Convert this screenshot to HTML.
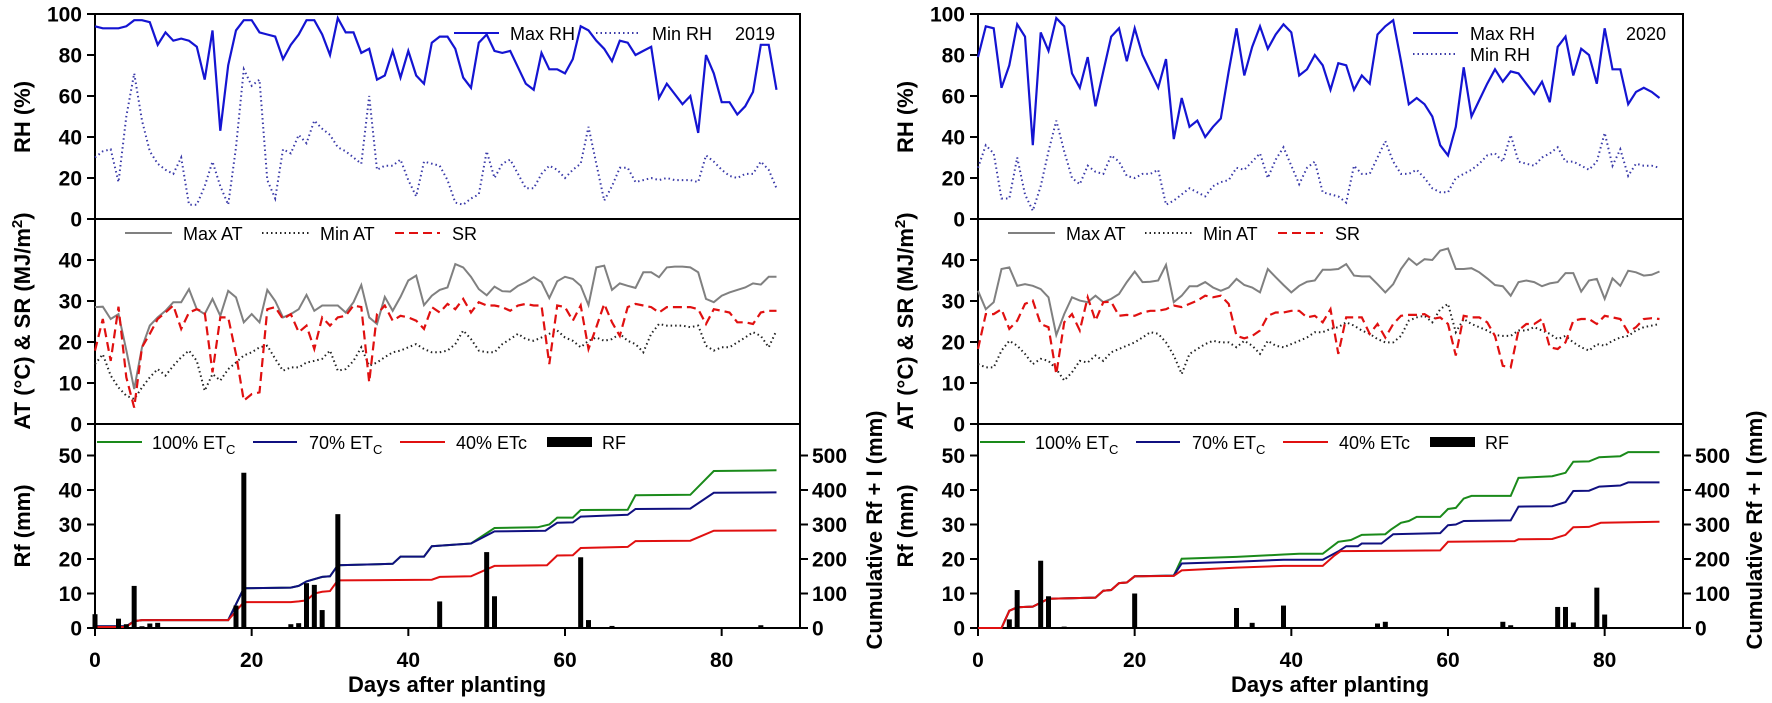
<!DOCTYPE html>
<html><head><meta charset="utf-8"><style>
html,body{margin:0;padding:0;background:#fff;}
svg{display:block;font-family:"Liberation Sans",Arial,sans-serif;}
.tk{font-weight:bold;font-size:21px;fill:#000;}
.tt{font-weight:bold;font-size:22px;fill:#000;}
.lg{font-size:18px;fill:#000;}
</style></head><body>
<svg id="chart" width="1772" height="703" viewBox="0 0 1772 703" xmlns="http://www.w3.org/2000/svg">
<rect x="0" y="0" width="1772" height="703" fill="#fff"/>
<g id="gL"></g>
<g id="gR"></g>
<!-- static titles left -->
<text class="tt" transform="translate(30,117) rotate(-90)" text-anchor="middle">RH (%)</text>
<text class="tt" transform="translate(30,321) rotate(-90)" text-anchor="middle">AT (°C) &amp; SR (MJ/m<tspan dy="-8" font-size="15">2</tspan><tspan dy="8">)</tspan></text>
<text class="tt" transform="translate(30,526) rotate(-90)" text-anchor="middle">Rf (mm)</text>
<text class="tt" transform="translate(882,530) rotate(-90)" text-anchor="middle">Cumulative Rf + I (mm)</text>
<text class="tt" x="447" y="692" text-anchor="middle">Days after planting</text>
<!-- static titles right -->
<text class="tt" transform="translate(913,117) rotate(-90)" text-anchor="middle">RH (%)</text>
<text class="tt" transform="translate(913,321) rotate(-90)" text-anchor="middle">AT (°C) &amp; SR (MJ/m<tspan dy="-8" font-size="15">2</tspan><tspan dy="8">)</tspan></text>
<text class="tt" transform="translate(913,526) rotate(-90)" text-anchor="middle">Rf (mm)</text>
<text class="tt" transform="translate(1762,530) rotate(-90)" text-anchor="middle">Cumulative Rf + I (mm)</text>
<text class="tt" x="1330" y="692" text-anchor="middle">Days after planting</text>

<!-- legends left -->
<g>
<line x1="454" y1="33" x2="499" y2="33" stroke="#1414d2" stroke-width="2"/>
<text class="lg" x="510" y="40">Max RH</text>
<line x1="596" y1="33" x2="641" y2="33" stroke="#3a3aa8" stroke-width="2" stroke-dasharray="1.5,3"/>
<text class="lg" x="652" y="40">Min RH</text>
<text class="lg" x="735" y="40">2019</text>
</g>
<g>
<line x1="125" y1="233" x2="172" y2="233" stroke="#808080" stroke-width="2"/>
<text class="lg" x="183" y="240">Max AT</text>
<line x1="262" y1="233" x2="310" y2="233" stroke="#222" stroke-width="2" stroke-dasharray="1.5,3"/>
<text class="lg" x="320" y="240">Min AT</text>
<line x1="395" y1="233" x2="440" y2="233" stroke="#e01010" stroke-width="2" stroke-dasharray="9,5"/>
<text class="lg" x="452" y="240">SR</text>
</g>
<g>
<line x1="97" y1="442" x2="142" y2="442" stroke="#1a8a1a" stroke-width="2"/>
<text class="lg" x="152" y="449">100% ET<tspan font-size="13" dy="5">C</tspan></text>
<line x1="253" y1="442" x2="297" y2="442" stroke="#101080" stroke-width="2"/>
<text class="lg" x="309" y="449">70% ET<tspan font-size="13" dy="5">C</tspan></text>
<line x1="400" y1="442" x2="445" y2="442" stroke="#e01010" stroke-width="2"/>
<text class="lg" x="456" y="449">40% ETc</text>
<rect x="547" y="437" width="45" height="10" fill="#000"/>
<text class="lg" x="602" y="449">RF</text>
</g>
<!-- legends right -->
<g>
<line x1="1413" y1="33" x2="1458" y2="33" stroke="#1414d2" stroke-width="2"/>
<text class="lg" x="1470" y="40">Max RH</text>
<line x1="1413" y1="54" x2="1458" y2="54" stroke="#3a3aa8" stroke-width="2" stroke-dasharray="1.5,3"/>
<text class="lg" x="1470" y="61">Min RH</text>
<text class="lg" x="1626" y="40">2020</text>
</g>
<g>
<line x1="1008" y1="233" x2="1055" y2="233" stroke="#808080" stroke-width="2"/>
<text class="lg" x="1066" y="240">Max AT</text>
<line x1="1145" y1="233" x2="1193" y2="233" stroke="#222" stroke-width="2" stroke-dasharray="1.5,3"/>
<text class="lg" x="1203" y="240">Min AT</text>
<line x1="1278" y1="233" x2="1323" y2="233" stroke="#e01010" stroke-width="2" stroke-dasharray="9,5"/>
<text class="lg" x="1335" y="240">SR</text>
</g>
<g>
<line x1="980" y1="442" x2="1025" y2="442" stroke="#1a8a1a" stroke-width="2"/>
<text class="lg" x="1035" y="449">100% ET<tspan font-size="13" dy="5">C</tspan></text>
<line x1="1136" y1="442" x2="1180" y2="442" stroke="#101080" stroke-width="2"/>
<text class="lg" x="1192" y="449">70% ET<tspan font-size="13" dy="5">C</tspan></text>
<line x1="1283" y1="442" x2="1328" y2="442" stroke="#e01010" stroke-width="2"/>
<text class="lg" x="1339" y="449">40% ETc</text>
<rect x="1430" y="437" width="45" height="10" fill="#000"/>
<text class="lg" x="1485" y="449">RF</text>
</g>
</svg>
<script>
// ===== data 2019 =====
const maxRH2019 = [94,93,93,93,94,97,97,96,85,91,87,88,87,84,68,92,43,75,92,97,97,91,90,89,78,85,90,97,97,90,80,98,91,91,81,83,68,70,82,69,82,70,66,86,89,89,83,69,64,86,90,82,81,82,74,66,63,81,73,73,71,78,94,92,87,83,77,87,86,80,82,84,59,66,61,56,60,42,80,71,57,57,51,55,62,85,85,63];
const minRH2019 = [30,33,34,18,50,71,48,33,27,24,22,30,7,7,16,28,16,7,35,73,65,68,19,10,34,32,41,37,48,44,41,35,33,30,27,60,24,26,26,29,19,11,28,27,26,19,8,7,10,12,33,20,27,29,22,15,15,22,26,24,20,24,27,45,27,9,16,25,25,18,19,20,19,20,19,19,19,18,31,28,24,21,20,22,22,28,24,15];
const maxAT2019 = [28.5,28.6,25.6,26.8,18,8.5,18.7,24,26,27.6,29.7,29.7,32.9,28,26.8,30.5,26.4,32.5,30.9,24.8,26.8,24.8,32.7,30,26,26.8,28,31.5,27.6,28.9,28.9,28.9,27.2,29.7,33.9,26,24.4,31,27.6,31,35,36.2,29,31.3,32.7,33.3,39,38.2,35.9,32.9,31.4,33.5,32.4,32.3,33.7,34.6,35.8,34.6,30.7,34.8,35.9,35.4,33.7,29,38.2,38.6,32.7,34.3,33.7,33.2,37,37,35.8,38.2,38.4,38.4,38.2,37,30.5,29.7,31.3,32.1,32.7,33.3,34.3,34,35.9,35.9];
const minAT2019 = [14.6,17,11.8,8.9,6.9,6.1,8.9,11.4,13.4,11.8,14.2,16.3,17.9,15.4,8.1,12.2,10.6,13.4,15,16.7,17.5,18.7,19.1,15.9,13,13.8,13.8,15,15.4,15.9,17.9,13,13.4,15.4,18.7,14.2,15,16.3,17.5,17.9,18.7,19.5,18.3,17.5,17.5,17.9,19.5,22.8,20.7,17.9,17.5,17.5,19.5,20.7,22,20.7,20.3,21.1,22,22.8,21.1,20.3,18.7,20.3,21.1,20.3,20.7,22,20.3,19.5,17.5,22,24.4,24,24,24,23.6,24,19.1,17.9,18.7,18.7,19.9,21.1,22.4,21.5,18.7,22.8];
const sr2019 = [17.9,25.6,15.4,28.6,11.4,4,18.7,22,25.6,27.2,28.9,23.2,27.2,28,27.2,12.6,26,26,17,5.7,7.3,7.7,28,28.5,25.6,26.8,22.4,24,18.3,26,24,26,26.4,28.9,28.5,10.2,26.8,28.9,25.2,26.4,26,25.2,23.2,28.5,27.2,29.3,28,30.5,27.2,29.7,28.9,28.9,28.5,27.6,28.9,29.3,28.9,28.9,14.6,28.9,28.5,25.2,28.9,18.3,23.6,29.3,24.8,21.5,28.5,29.3,28.9,28.5,27.2,28.5,28.5,28.5,28.5,28,24.4,28,27.6,27.2,24.8,24.8,24.4,27.2,27.6,27.6];
const rfDays2019 = [0,3,4,5,6,7,8,18,19,25,26,27,28,29,31,43,44,50,51,62,63,66,85];
const rf2019 = [4,2.7,1.1,12.2,0.5,1.3,1.5,6.5,45,1.1,1.4,13,12.5,5.2,33,0.3,7.7,22,9.2,20.5,2.3,0.6,0.8];
const cum100Days2019 = [0,4,5,6,17,19,25,26,27,29,30,31,38,39,42,43,48,51,56.5,58,59,61,62,68,69,76,79,87];
const cum100Vals2019 = [5,5,20,23,23,115,117,122,135,148,150,182,186,207,207,237,245,290,292,300,320,320,342,343,385,386,455,457];
const cum70Days2019 = [0,4,5,6,17,19,25,26,27,29,30,31,38,39,42,43,48,51,57.5,58,59,61,62,68,69,76,79,87];
const cum70Vals2019 = [5,5,20,23,23,115,117,122,135,148,150,182,186,207,207,237,245,280,282,290,305,306,323,328,345,346,392,393];
const cum40Days2019 = [0,4,5,6,17,19,25,26,27,28,29,30,31,43,44,48,51,57.7,59,61,62,68,69,76,79,87];
const cum40Vals2019 = [3,3,20,23,23,75,75,77,80,100,105,107,138,140,148,150,180,182,210,211,232,235,252,253,282,283];
// ===== data 2020 =====
const maxRH2020 = [79,94,93,64,75,95,89,36,91,82,98,94,71,64,79,55,72,89,93,77,93,80,72,64,78,39,59,45,48,40,45,49,72,93,70,84,94,83,90,95,91,70,73,80,75,63,76,75,63,70,66,90,94,97,77,56,59,56,50,36,31,45,74,50,58,66,73,67,72,71,66,61,67,57,84,89,70,83,80,66,93,73,73,56,62,64,62,59];
const minRH2020 = [25,36,32,10,10,30,12,4,16,33,48,33,20,17,26,23,22,31,28,21,20,22,22,24,7,9,12,15,13,11,16,18,19,25,24,28,32,20,29,35,26,17,25,28,13,12,11,8,26,22,22,30,38,28,22,22,24,20,15,13,13,20,22,24,27,31,32,28,41,28,27,26,30,32,35,28,28,26,24,28,42,26,34,21,27,26,26,25];
const maxAT2020 = [32.5,28,29.7,37.8,38.2,33.7,34.1,33.7,32.9,30.9,21.7,26.8,30.9,30.1,29.7,31.3,29.7,30.5,31.7,34.6,37.2,34.6,34.7,35,38.8,29.7,31.3,33.6,33.6,34.6,33.3,32.5,33.3,35.4,33.9,33.3,32.1,37.8,35.8,33.9,32.1,33.7,34.7,35,37.6,37.6,37.8,39,36.2,36,36,34.1,32.1,34.1,37.8,40.4,38.8,40.2,40,42.3,42.8,37.8,37.8,38,37,35.5,33.9,33.6,31.3,34.6,35,34.6,33.6,34.3,34.6,36.8,36.8,32.3,35,35.4,30.5,35.5,33.7,37.4,37,36.2,36.4,37.2];
const minAT2020 = [14.6,13.8,13.8,17.9,20.3,19.1,17.1,14.6,15.9,15.4,13.4,10.6,12.6,15.4,15,16.7,15.4,17.5,18.3,19.1,19.9,21.1,22.4,22,19.9,16.7,12.2,17.1,18.3,19.5,20.3,19.9,19.9,18.7,20.3,19.1,17.1,20.3,19.1,18.7,19.5,20.3,21.1,22.4,22.4,23.2,23.6,24.8,24,22.8,22,20.7,19.9,19.9,21.5,25.2,26,26.4,24.8,28,29.3,22.4,25.6,24.4,23.6,22.8,21.7,21.5,21.5,22.8,22.8,23.6,22.8,22,20.7,21.5,19.9,18.7,17.9,19.5,19.1,20.3,21.1,21.5,22.8,23.6,24,24.4];
const sr2020 = [18.3,26.8,26.8,28,23.2,25.2,29.3,30.1,24.4,23.6,12.2,24.8,26.8,22.8,30.9,25.2,29.7,29.8,26.4,26.6,26.4,27.2,27.6,27.6,28,28.9,28.5,29.3,30.1,31.3,30.9,31.3,29.3,21.5,20.9,21.5,22.8,26.4,27.2,27.2,27.6,27.6,26,26.4,24.8,28,17.1,26,26,26,22,24.4,21.1,24.4,26.4,26.6,26.6,26.8,25.6,26,24.4,16.7,26.4,26,26,24.8,21.5,14.2,13.8,22.8,24.4,24.4,25.6,18.7,18.3,19.9,25.2,25.6,25.6,24.4,26.4,26,25.6,22.4,23.6,25.6,25.8,25.6];
const rfDays2020 = [4,5,8,9,11,20,33,35,39,51,52,67,68,74,75,76,79,80];
const rf2020 = [2.5,11,19.5,9.2,0.4,10,5.8,1.5,6.5,1.3,1.8,1.8,0.8,6.1,6.1,1.6,11.7,3.9];
const cum100Days2020 = [0,3,4,5,7,9,15,16,17,18,19,20,25,26,33,39,41,44,46,47.6,49,52,52.7,54,55,56,59,60,61,62,63,68,69,73.3,75,76,78,79.3,82,83,87];
const cum100Vals2020 = [0,0,50,60,62,85,88,108,110,130,132,150,152,201,206,213,215,215,250,255,270,272,285,305,310,322,322,345,348,375,383,383,435,440,450,482,483,495,498,510,510];
const cum70Days2020 = [0,3,4,5,7,9,15,16,17,18,19,20,25,26,33,39,41,44,46,47,48.5,49,51.5,53,59,60,61,62,68,69,73.3,75,76,78,79.3,82,83,87];
const cum70Vals2020 = [0,0,50,60,62,85,88,108,110,130,132,150,152,187,192,198,198,198,222,237,237,245,245,272,275,298,300,310,312,352,353,365,397,398,410,413,422,422];
const cum40Days2020 = [0,3,4,5,7,9,15,16,17,18,19,20,25,26,33,39,44,45.5,46.3,59,60,68.5,69,73.3,75,76,78,79.5,87];
const cum40Vals2020 = [0,0,50,60,62,85,88,108,110,130,132,150,151,167,175,180,180,210,223,225,250,252,257,258,270,292,293,305,308];
// ===== ticks =====
const rhTicks = [0,20,40,60,80,100];
const atTicks = [0,10,20,30,40];
const rfTicks = [0,10,20,30,40,50];
const cumTicks = [0,100,200,300,400,500];
const dayTicks = [0,20,40,60,80];

const NS = "http://www.w3.org/2000/svg";
function mk(tag, attrs, parent){
  const el = document.createElementNS(NS, tag);
  for (const k in attrs) el.setAttribute(k, attrs[k]);
  parent.appendChild(el);
  return el;
}
// axis functions
const TOP=14, MID=219, BOT=424, BASE=628, PW=705;
function xs(off, d){ return off + d * PW / 90; }
function yRH(v){ return MID - v * (MID-TOP) / 100; }
function yAT(v){ return BOT - v * (BOT-MID) / 50; }
function yRF(v){ return BASE - v * 3.45; }
function yCum(v){ return BASE - v * 0.345; }

function series(g, off, vals, yf, style, name){
  let d = "";
  vals.forEach((v,i)=>{ d += (i? "L":"M") + xs(off,i).toFixed(1) + "," + yf(v).toFixed(1); });
  const p = mk("path", Object.assign({d:d, fill:"none"}, style), g);
  
  
}
function stepSeries(g, off, days, vals, style, name){
  let d = "";
  days.forEach((dd,i)=>{ d += (i? "L":"M") + xs(off,dd).toFixed(1) + "," + yCum(vals[i]).toFixed(1); });
  const p = mk("path", Object.assign({d:d, fill:"none"}, style), g);
  
  
}

function drawPanel(g, off, yr, D){
  // frames
  [[TOP,MID],[MID,BOT],[BOT,BASE]].forEach((r,i)=>{
    const f = mk("rect",{x:off,y:r[0],width:PW,height:r[1]-r[0],fill:"none",stroke:"#000","stroke-width":2},g);
    
    
  });
  // left ticks
  function lticks(ticks, yf, nm){
    ticks.forEach(t=>{
      const y = yf(t);
      const l = mk("line",{x1:off-8,x2:off,y1:y,y2:y,stroke:"#000","stroke-width":2},g);
      
      
      const tx = mk("text",{x:off-13,y:y+7.5,"text-anchor":"end","class":"tk"},g);
      tx.textContent = t;
      
      
    });
  }
  lticks(rhTicks, yRH, 'rh-'+yr);
  lticks(atTicks, yAT, 'at-'+yr);
  lticks(rfTicks, yRF, 'rf-'+yr);
  cumTicks.forEach(t=>{
    const y = yCum(t);
    const l = mk("line",{x1:off+PW,x2:off+PW+8,y1:y,y2:y,stroke:"#000","stroke-width":2},g);
    
    
    const tx = mk("text",{x:off+PW+12,y:y+7.5,"text-anchor":"start","class":"tk"},g);
    tx.textContent = t;
    
    
  });
  dayTicks.forEach(t=>{
    const x = xs(off,t);
    const l = mk("line",{x1:x,x2:x,y1:BASE,y2:BASE+8,stroke:"#000","stroke-width":2},g);
    
    
    const tx = mk("text",{x:x,y:667,"text-anchor":"middle","class":"tk"},g);
    tx.textContent = t;
    
    
  });
  // series
  series(g, off, D.minRH, yRH, {stroke:"#3a3aa8","stroke-width":2,"stroke-dasharray":"1.5,3"}, 'min-rh-line-'+yr);
  series(g, off, D.maxRH, yRH, {stroke:"#1414d2","stroke-width":2.2}, 'max-rh-line-'+yr);
  series(g, off, D.maxAT, yAT, {stroke:"#808080","stroke-width":2}, 'max-at-line-'+yr);
  series(g, off, D.minAT, yAT, {stroke:"#222","stroke-width":2,"stroke-dasharray":"1.5,3"}, 'min-at-line-'+yr);
  series(g, off, D.sr, yAT, {stroke:"#e01010","stroke-width":2.2,"stroke-dasharray":"9,5"}, 'sr-line-'+yr);
  stepSeries(g, off, D.c100d, D.c100v, {stroke:"#1a8a1a","stroke-width":2}, 'etc100-line-'+yr);
  stepSeries(g, off, D.c70d, D.c70v, {stroke:"#101080","stroke-width":2}, 'etc70-line-'+yr);
  stepSeries(g, off, D.c40d, D.c40v, {stroke:"#e01010","stroke-width":2}, 'etc40-line-'+yr);
  D.rfd.forEach((d,i)=>{
    const x = xs(off,d), y = yRF(D.rf[i]);
    const b = mk("rect",{x:x-2.5,y:y,width:5,height:BASE-y,fill:"#000"},g);
    
    
  });
}
drawPanel(document.getElementById('gL'), 95, '2019', {maxRH:maxRH2019,minRH:minRH2019,maxAT:maxAT2019,minAT:minAT2019,sr:sr2019,rfd:rfDays2019,rf:rf2019,c100d:cum100Days2019,c100v:cum100Vals2019,c70d:cum70Days2019,c70v:cum70Vals2019,c40d:cum40Days2019,c40v:cum40Vals2019});
drawPanel(document.getElementById('gR'), 978, '2020', {maxRH:maxRH2020,minRH:minRH2020,maxAT:maxAT2020,minAT:minAT2020,sr:sr2020,rfd:rfDays2020,rf:rf2020,c100d:cum100Days2020,c100v:cum100Vals2020,c70d:cum70Days2020,c70v:cum70Vals2020,c40d:cum40Days2020,c40v:cum40Vals2020});
</script>
</body></html>
